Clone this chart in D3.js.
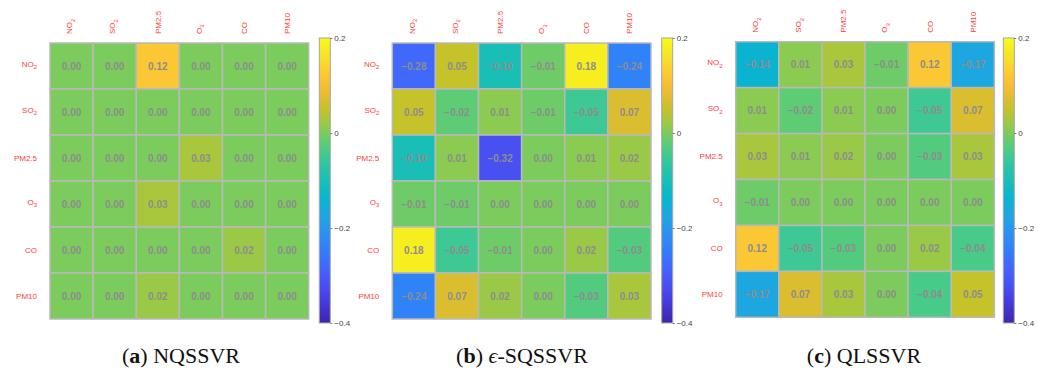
<!DOCTYPE html>
<html>
<head>
<meta charset="utf-8">
<script src="https://cdn.jsdelivr.net/npm/d3@7"></script>
<style>
  body { margin: 0; background: #fff; }
  svg { display: block; }
</style>
</head>
<body>
<div id="chart"></div>
<script>
const width = 1038, height = 370;

// pollutant names, [main text, subscript]
var labels = [["NO", "2"], ["SO", "2"], ["PM2.5", ""], ["O", "3"], ["CO", ""], ["PM10", ""]];

var nqssvr = [
  [0.00, 0.00, 0.12, 0.00, 0.00, 0.00],
  [0.00, 0.00, 0.00, 0.00, 0.00, 0.00],
  [0.00, 0.00, 0.00, 0.03, 0.00, 0.00],
  [0.00, 0.00, 0.03, 0.00, 0.00, 0.00],
  [0.00, 0.00, 0.00, 0.00, 0.02, 0.00],
  [0.00, 0.00, 0.02, 0.00, 0.00, 0.00]
];
var sqssvr = [
  [-0.28, 0.05, -0.10, -0.01, 0.18, -0.24],
  [0.05, -0.02, 0.01, -0.01, -0.05, 0.07],
  [-0.10, 0.01, -0.32, 0.00, 0.01, 0.02],
  [-0.01, -0.01, 0.00, 0.00, 0.00, 0.00],
  [0.18, -0.05, -0.01, 0.00, 0.02, -0.03],
  [-0.24, 0.07, 0.02, 0.00, -0.03, 0.03]
];
var qlssvr = [
  [-0.14, 0.01, 0.03, -0.01, 0.12, -0.17],
  [0.01, -0.02, 0.01, 0.00, -0.05, 0.07],
  [0.03, 0.01, 0.02, 0.00, -0.03, 0.03],
  [-0.01, 0.00, 0.00, 0.00, 0.00, 0.00],
  [0.12, -0.05, -0.03, 0.00, 0.02, -0.04],
  [-0.17, 0.07, 0.03, 0.00, -0.04, 0.05]
];

var colorTicks = [0.2, 0, -0.2, -0.4];
var colorDomain = [-0.4, 0.2];

// parula-like colormap
var parula = ["#3e26a8", "#4537d5", "#484df0", "#4563fd", "#327cfc", "#2b91ef", "#20a5e3",
  "#08b5d0", "#19bfb6", "#31c69f", "#57cc7a", "#8fcb4e", "#c5c22a", "#efba36",
  "#fec934", "#f5e327", "#f9fb15"];

var color = d3.scaleSequential(d3.piecewise(d3.interpolateRgb, parula)).domain(colorDomain);

var panels = [
  {values: nqssvr, letter: "a", name: "NQSSVR", left: 50, top: 43, bottom: 319, bar: 319.3, cx: 181},
  {values: sqssvr, letter: "b", name: "-SQSSVR", eps: true, left: 392.3, top: 43, bottom: 319, bar: 661.7, cx: 522},
  {values: qlssvr, letter: "c", name: "QLSSVR", left: 735.7, top: 41.7, bottom: 317.3, bar: 1003.3, cx: 864}
];

const svg = d3.select("#chart").append("svg")
  .attr("width", width)
  .attr("height", height);

var defs = svg.append("defs");
var grad = defs.append("linearGradient")
  .attr("id", "cbar")
  .attr("x1", 0).attr("y1", 1).attr("x2", 0).attr("y2", 0);
d3.range(0, 1.0001, 0.02).forEach(function(t) {
  grad.append("stop")
    .attr("offset", t)
    .attr("stop-color", color(colorDomain[0] + t * (colorDomain[1] - colorDomain[0])));
});

var fmt = d3.format(".2f");
var labelColor = "#ff3b3b";

function writeLabel(sel, lab, first) {
  sel.append("tspan").attr("dy", first).text(lab[0]);
  if (lab[1]) sel.append("tspan").attr("dy", 2.5).attr("font-size", 6).text(lab[1]);
}

panels.forEach(function(p) {
  var g = svg.append("g");
  var names = labels.map(function(d) { return d[0] + d[1]; });

  var x = d3.scaleBand().domain(names).range([p.left, p.left + 258.7]);
  var y = d3.scaleBand().domain(names).range([p.top, p.bottom]);

  var cells = [];
  p.values.forEach(function(row, i) {
    row.forEach(function(v, j) { cells.push({r: names[i], c: names[j], v: v}); });
  });

  g.selectAll("rect.cell")
    .data(cells)
    .enter()
    .append("rect")
    .attr("class", "cell")
    .attr("x", function(d) { return x(d.c); })
    .attr("y", function(d) { return y(d.r); })
    .attr("width", x.bandwidth())
    .attr("height", y.bandwidth())
    .style("fill", function(d) { return color(d.v); })
    .style("stroke", "#b9b9b9")
    .style("stroke-width", 1.5);

  g.selectAll("text.val")
    .data(cells)
    .enter()
    .append("text")
    .attr("class", "val")
    .attr("x", function(d) { return x(d.c) + x.bandwidth() / 2; })
    .attr("y", function(d) { return y(d.r) + y.bandwidth() / 2; })
    .attr("dy", "0.36em")
    .attr("text-anchor", "middle")
    .style("font-family", "Liberation Sans, Arial, sans-serif")
    .style("font-size", "10px")
    .style("font-weight", "bold")
    .style("fill", "#8d8d8d")
    .text(function(d) { return fmt(d.v); });

  // row labels
  labels.forEach(function(lab, i) {
    var t = g.append("text")
      .attr("x", p.left - 13)
      .attr("y", y(names[i]) + y.bandwidth() / 2)
      .attr("text-anchor", "end")
      .style("font-family", "Liberation Sans, Arial, sans-serif")
      .style("font-size", "8px")
      .style("fill", labelColor);
    writeLabel(t, lab, lab[1] ? "0.1em" : "0.35em");
  });

  // column labels, read bottom to top
  labels.forEach(function(lab, j) {
    var t = g.append("text")
      .attr("transform", "translate(" + (x(names[j]) + x.bandwidth() / 2) + "," + (p.top - 9) + ") rotate(-90)")
      .attr("text-anchor", "start")
      .style("font-family", "Liberation Sans, Arial, sans-serif")
      .style("font-size", "8px")
      .style("fill", labelColor);
    writeLabel(t, lab, lab[1] ? "0.1em" : "0.35em");
  });

  // colorbar
  var cy = d3.scaleLinear().domain(colorDomain).range([323, 38]);
  g.append("rect")
    .attr("x", p.bar)
    .attr("y", cy(colorDomain[1]))
    .attr("width", 11)
    .attr("height", cy(colorDomain[0]) - cy(colorDomain[1]))
    .style("fill", "url(#cbar)")
    .style("stroke", "#a6a6a6")
    .style("stroke-width", 1);

  var axis = g.append("g")
    .attr("transform", "translate(" + (p.bar + 11) + ",0)")
    .call(d3.axisRight(cy).tickValues(colorTicks).tickSize(2).tickPadding(2).tickFormat(d3.format("")));
  axis.select(".domain").remove();
  axis.selectAll("line").style("stroke", "#777");
  axis.selectAll("text")
    .style("font-family", "Liberation Sans, Arial, sans-serif")
    .style("font-size", "8px")
    .style("fill", "#444");

  // caption
  var cap = g.append("text")
    .attr("x", p.cx)
    .attr("y", 363)
    .attr("text-anchor", "middle")
    .style("font-family", "Liberation Serif, Times New Roman, serif")
    .style("font-size", "22px")
    .style("fill", "#111");
  cap.append("tspan").text("(");
  cap.append("tspan").style("font-weight", "bold").text(p.letter);
  cap.append("tspan").text(") ");
  if (p.eps) cap.append("tspan").style("font-style", "italic").text("\u03F5");
  cap.append("tspan").text(p.name);
});
</script>
</body>
</html>
